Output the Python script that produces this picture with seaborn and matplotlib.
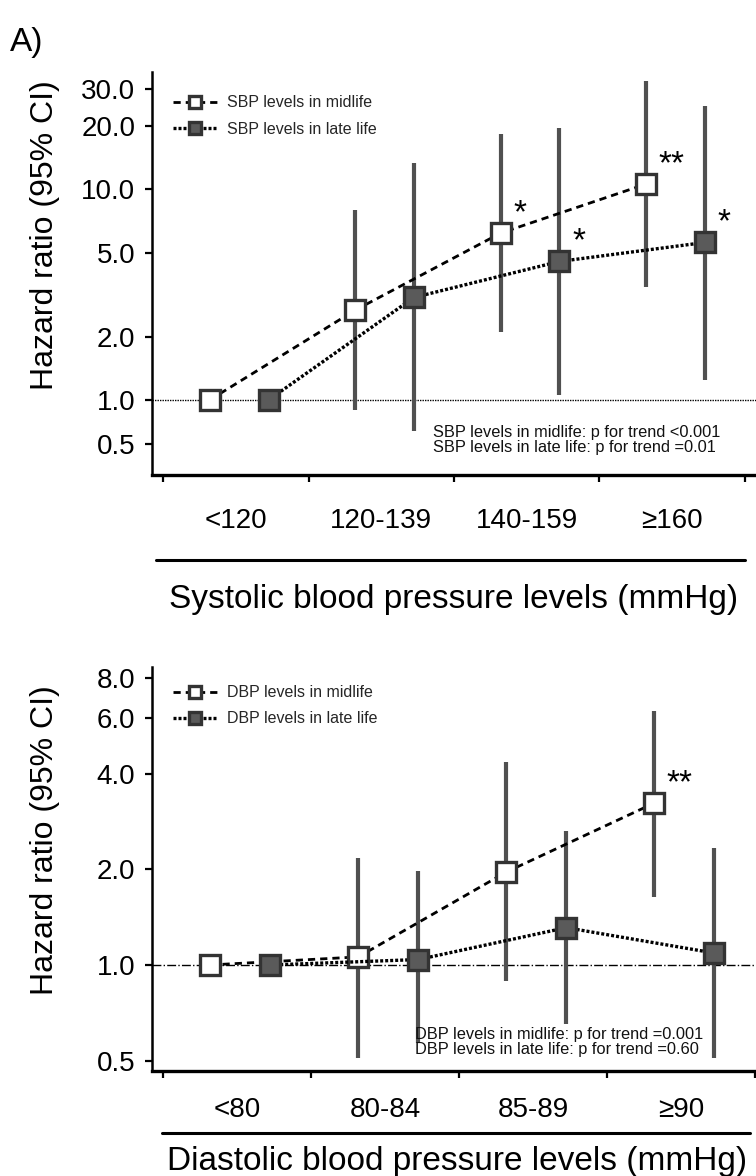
import numpy as np
import pandas as pd
import matplotlib
matplotlib.use("Agg")
import matplotlib.pyplot as plt
from matplotlib.lines import Line2D
from matplotlib.ticker import FixedLocator, NullLocator
import seaborn as sns

# ---------------- data ----------------
sbp_categories = ["<120", "120-139", "140-159", "\u2265160"]
sbp_mid_hr = [1.0, 2.67, 6.2, 10.6]
sbp_mid_lo = [np.nan, 0.86, 2.1, 3.45]
sbp_mid_hi = [np.nan, 8.0, 18.3, 32.8]
sbp_late_hr = [1.0, 3.07, 4.55, 5.6]
sbp_late_lo = [np.nan, 0.61, 1.06, 1.24]
sbp_late_hi = [np.nan, 13.3, 19.5, 24.9]
sbp_mid_sig = ["", "", "*", "**"]
sbp_late_sig = ["", "", "*", "*"]
sbp_labels = ["SBP levels in midlife", "SBP levels in late life"]
sbp_trend = ["SBP levels in midlife: p for trend <0.001",
             "SBP levels in late life: p for trend =0.01"]
sbp_yticks = [0.5, 1.0, 2.0, 5.0, 10.0, 20.0, 30.0]

dbp_categories = ["<80", "80-84", "85-89", "\u226590"]
dbp_mid_hr = [1.0, 1.06, 1.96, 3.23]
dbp_mid_lo = [np.nan, 0.51, 0.89, 1.64]
dbp_mid_hi = [np.nan, 2.17, 4.35, 6.3]
dbp_late_hr = [1.0, 1.04, 1.31, 1.09]
dbp_late_lo = [np.nan, 0.57, 0.65, 0.51]
dbp_late_hi = [np.nan, 1.97, 2.64, 2.33]
dbp_mid_sig = ["", "", "", "**"]
dbp_late_sig = ["", "", "", ""]
dbp_labels = ["DBP levels in midlife", "DBP levels in late life"]
dbp_trend = ["DBP levels in midlife: p for trend =0.001",
             "DBP levels in late life: p for trend =0.60"]
dbp_yticks = [0.5, 1.0, 2.0, 4.0, 6.0, 8.0]

# ---------------- style ----------------
sns.set_theme(style="ticks")
plt.rcParams["font.family"] = ["Liberation Sans", "DejaVu Sans"]

W, H = 756, 1176
fig = plt.figure(figsize=(W / 100, H / 100), dpi=100)

MID_OFF, LATE_OFF = -0.18, 0.225
LOW_K = 0.694  # compression of the sub-1 part of the top axis


def fwd(v):
    v = np.asarray(v, dtype=float)
    lv = np.log10(np.clip(v, 1e-12, None))
    return np.where(lv >= 0, lv, LOW_K * lv)


def inv(p):
    p = np.asarray(p, dtype=float)
    return np.where(p >= 0, 10.0 ** p, 10.0 ** (p / LOW_K))


def panel(ax, cats, mid, late, sigs, labels, trend, yticks, ylim, xlim,
          reflinestyle, legend_y, trend_xy, underline, title, title_xy,
          ylab_xy, tick_pad):
    n = len(cats)
    centers = np.arange(n)
    frames = []
    for name, (hr, lo, hi), off in zip(["mid", "late"], [mid, late], [MID_OFF, LATE_OFF]):
        frames.append(pd.DataFrame({"x": centers + off, "hr": hr, "lo": lo, "hi": hi,
                                    "period": name}))
    df = pd.concat(frames, ignore_index=True)

    ax.set_ylim(*ylim)
    ax.set_xlim(*xlim)
    ax.axhline(1.0, color="black", lw=1.0, ls=reflinestyle, zorder=1)

    ci = df.dropna(subset=["lo", "hi"])
    ax.vlines(ci["x"], ci["lo"], ci["hi"], color="#505050", lw=3.0, zorder=2)

    dm = df[df.period == "mid"]
    dl = df[df.period == "late"]
    sns.lineplot(data=dm, x="x", y="hr", ax=ax, errorbar=None, color="black",
                 linestyle=(0, (2.6, 1.8)), linewidth=2.0, marker="s", markersize=15,
                 markerfacecolor="white", markeredgecolor="#333333",
                 markeredgewidth=2.4, label=labels[0], zorder=4)
    sns.lineplot(data=dl, x="x", y="hr", ax=ax, errorbar=None, color="black",
                 linestyle=(0, (0.9, 0.6)), linewidth=2.4, marker="s", markersize=15,
                 markerfacecolor="#5a5a5a", markeredgecolor="#333333",
                 markeredgewidth=2.4, label=labels[1], zorder=4)

    for (sub, sig) in [(dm, sigs[0]), (dl, sigs[1])]:
        for xv, yv, s in zip(sub["x"], sub["hr"], sig):
            if s:
                ax.annotate(s, xy=(xv, yv), xytext=(10 + 4 * len(s), 14),
                            textcoords="offset points", ha="center", va="center",
                            fontsize=24, color="black", zorder=5)

    ax.legend(loc="upper left", bbox_to_anchor=(0.034, legend_y),
              frameon=False, fontsize=11.5, handlelength=2.8,
              handletextpad=0.6, labelspacing=0.7, markerscale=0.6,
              borderpad=0, borderaxespad=0)

    ax.text(trend_xy[0], trend_xy[1], "\n".join(trend), transform=ax.transAxes,
            ha="left", va="center", fontsize=11.8, linespacing=1.0, color="#111111")

    # axes styling
    sns.despine(ax=ax)
    ax.spines["left"].set_linewidth(1.8)
    ax.spines["bottom"].set_linewidth(2.4)
    ax.spines["left"].set_color("black")
    ax.spines["bottom"].set_color("black")
    ax.yaxis.set_major_locator(FixedLocator(yticks))
    ax.yaxis.set_minor_locator(NullLocator())
    ax.set_yticklabels([f"{v:.1f}" for v in yticks])
    ax.tick_params(axis="y", which="major", direction="out", length=5, width=1.6,
                   labelsize=20, pad=7, color="black", labelcolor="black")
    ax.set_xticks(centers)
    ax.set_xticklabels(cats)
    ax.set_xticks(np.arange(n + 1) - 0.5, minor=True)
    ax.tick_params(axis="x", which="major", length=0, labelsize=20, pad=tick_pad,
                   labelcolor="black")
    ax.tick_params(axis="x", which="minor", direction="out", length=5, width=1.6,
                   color="black")

    ax.set_ylabel("Hazard ratio (95% CI)", fontsize=23, color="black")
    ax.yaxis.set_label_coords(*ylab_xy)
    ax.yaxis.label.set_va("center")
    ax.set_xlabel(title, fontsize=24, color="black")
    ax.xaxis.set_label_coords(*title_xy)
    ax.xaxis.label.set_va("center")

    ax.add_line(Line2D([underline[0], underline[1]], [underline[2], underline[2]],
                       transform=ax.transAxes, color="black", lw=2.2, clip_on=False))
    ax.grid(False)
    ax.set_facecolor("white")


ax1 = fig.add_axes([152 / W, 1 - 475 / H, 604 / W, 403 / H])
ax1.set_yscale("function", functions=(fwd, inv))
panel(ax1, sbp_categories,
      (sbp_mid_hr, sbp_mid_lo, sbp_mid_hi), (sbp_late_hr, sbp_late_lo, sbp_late_hi),
      (sbp_mid_sig, sbp_late_sig), sbp_labels, sbp_trend, sbp_yticks,
      ylim=(0.307, 36.1), xlim=(-0.576, 3.576), reflinestyle=(0, (1, 0.8)),
      legend_y=0.942, trend_xy=(0.465, 0.087),
      underline=(0.007, 0.982, -0.21), title="Systolic blood pressure levels (mmHg)",
      title_xy=(0.5, -0.31), ylab_xy=(-0.177, 0.595), tick_pad=24)

ax2 = fig.add_axes([152 / W, 1 - 1071 / H, 604 / W, 404 / H])
ax2.set_yscale("log")
panel(ax2, dbp_categories,
      (dbp_mid_hr, dbp_mid_lo, dbp_mid_hi), (dbp_late_hr, dbp_late_lo, dbp_late_hi),
      (dbp_mid_sig, dbp_late_sig), dbp_labels, dbp_trend, dbp_yticks,
      ylim=(0.464, 8.65), xlim=(-0.574, 3.507), reflinestyle="-.",
      legend_y=0.955, trend_xy=(0.435, 0.073),
      underline=(0.017, 0.99, -0.154), title="Diastolic blood pressure levels (mmHg)",
      title_xy=(0.505, -0.223), ylab_xy=(-0.177, 0.572), tick_pad=19)

fig.text(10 / W, 1 - 42 / H, "A)", fontsize=24, ha="left", va="center", color="black")

fig.savefig("out.png", dpi=100, facecolor="white")
